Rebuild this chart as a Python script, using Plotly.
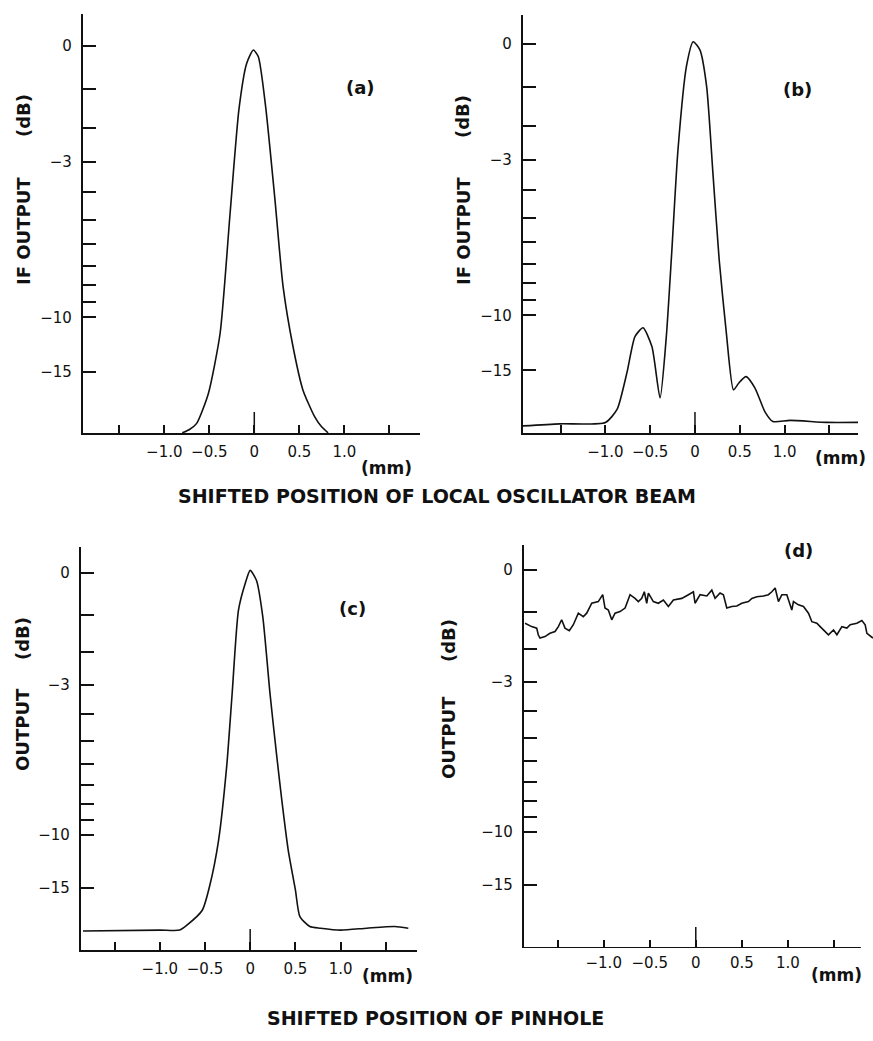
import numpy as np
import plotly.graph_objects as go

W, H = 873, 1041

# ---------------- data (x in mm, output in dB) ----------------
a_x = [-0.80, -0.72, -0.64, -0.51, -0.38, -0.27, -0.17, -0.085, -0.01, 0.045, 0.126,
       0.23, 0.32, 0.43, 0.54, 0.67, 0.75, 0.82]
a_db = [-32.0, -29.5, -26.2, -18.1, -11.2, -4.8, -1.5, -0.39, -0.09, -0.24, -1.44,
        -4.27, -8.1, -12.3, -17.5, -23.6, -28.0, -32.0]

b_x = [-1.92, -1.51, -1.0, -0.87, -0.76, -0.67, -0.58, -0.48, -0.39, -0.32, -0.26,
       -0.19, -0.095, -0.02, 0.055, 0.13, 0.2, 0.27, 0.35, 0.43, 0.49, 0.57, 0.67,
       0.78, 0.87, 1.06, 1.47, 1.82]
b_db = [-28.4, -27.3, -26.6, -22.0, -15.3, -11.6, -10.9, -12.5, -19.3, -11.6, -6.5,
        -2.7, -0.5, 0.05, -0.13, -0.98, -3.4, -6.8, -11.3, -17.8, -16.7, -15.8, -17.5,
        -22.6, -26.2, -25.7, -26.6, -26.6]

c_x = [-1.85, -1.0, -0.78, -0.70, -0.53, -0.45, -0.35, -0.26, -0.20, -0.13, -0.055,
       0.0, 0.07, 0.14, 0.22, 0.29, 0.35, 0.42, 0.50, 0.55, 0.66, 0.78, 1.0, 1.29,
       1.6, 1.75]
c_db = [-23.6, -23.3, -23.3, -21.8, -18.4, -14.8, -10.4, -6.1, -3.3, -0.89, -0.24,
        0.06, -0.17, -1.06, -3.3, -5.5, -7.8, -11.1, -15.2, -19.7, -22.2, -22.7, -23.3,
        -22.7, -22.2, -22.7]

d_x = [-1.855, -1.820, -1.783, -1.728, -1.711, -1.692, -1.638, -1.584, -1.529, -1.493,
       -1.457, -1.421, -1.374, -1.330, -1.276, -1.222, -1.185, -1.130, -1.059, -1.011,
       -0.986, -0.950, -0.913, -0.877, -0.823, -0.768, -0.714, -0.660, -0.624, -0.587,
       -0.559, -0.533, -0.515, -0.461, -0.407, -0.352, -0.298, -0.243, -0.152, -0.080,
       -0.026, -0.008, 0.047, 0.120, 0.174, 0.210, 0.264, 0.300, 0.337, 0.391,
       0.446, 0.500, 0.572, 0.609, 0.645, 0.663, 0.735, 0.789, 0.826, 0.862,
       0.898, 0.935, 0.989, 1.017, 1.043, 1.061, 1.115, 1.170, 1.224, 1.261,
       1.315, 1.351, 1.405, 1.441, 1.496, 1.533, 1.587, 1.641, 1.677, 1.750,
       1.804, 1.840, 1.859, 1.896, 1.924]
d_db = [-1.30, -1.34, -1.39, -1.43, -1.61, -1.70, -1.66, -1.57, -1.52, -1.39,
        -1.21, -1.43, -1.50, -1.34, -1.04, -1.13, -1.04, -0.79, -0.75, -0.58,
        -0.91, -0.96, -1.21, -1.04, -1.00, -0.91, -0.58, -0.67, -0.75, -0.67,
        -0.51, -0.79, -0.54, -0.75, -0.79, -0.71, -0.87, -0.71, -0.67, -0.58,
        -0.51, -0.79, -0.58, -0.61, -0.47, -0.67, -0.54, -0.58, -0.91, -0.87,
        -0.86, -0.79, -0.75, -0.67, -0.63, -0.63, -0.61, -0.58, -0.51, -0.42,
        -0.75, -0.58, -0.58, -0.79, -0.96, -0.75, -0.83, -0.87, -1.04, -1.26,
        -1.30, -1.39, -1.52, -1.61, -1.48, -1.61, -1.39, -1.43, -1.34, -1.30,
        -1.23, -1.34, -1.57, -1.66, -1.70]

x_tick_vals = [-1.5, -1.0, -0.5, 0.0, 0.5, 1.0, 1.5]
x_tick_text = ["", "\u22121.0", "\u22120.5", "0", "0.5", "1.0", ""]
y_tick_db = [0, -1, -2, -3, -4, -5, -6, -7, -8, -9, -10, -15]
y_tick_text = ["0", "", "", "\u22123", "", "", "", "", "", "", "\u221210", "\u221215"]

panel_labels = ["(a)", "(b)", "(c)", "(d)"]
ytitle_main = ["IF OUTPUT", "IF OUTPUT", "OUTPUT", "OUTPUT"]
title_top = "SHIFTED POSITION OF LOCAL OSCILLATOR BEAM"
title_bottom = "SHIFTED POSITION OF PINHOLE"


def amp(db):
    # output axis is linear in field amplitude; labelled in dB
    return 10 ** (np.asarray(db, dtype=float) / 20.0)


# ---------------- layout geometry (pixels) ----------------
panels = [
    dict(px=(83, 420, 14, 433), xr=(-1.903, 1.841), yr=(0.0247, 1.0806)),
    dict(px=(523, 858, 15, 433), xr=(-1.92, 1.82), yr=(0.0201, 1.073)),
    dict(px=(81, 417, 547, 950), xr=(-1.872, 1.846), yr=(0.0164, 1.068)),
    dict(px=(524, 873, 545, 948), xr=(-1.866, 1.925), yr=(0.0138, 1.065)),
]
d_axis_end = 1.793

series = [(a_x, a_db, "spline"), (b_x, b_db, "spline"), (c_x, c_db, "spline"), (d_x, d_db, "linear")]

TICK_FONT = dict(family="DejaVu Sans", size=15, color="#111")
BOLD = dict(family="DejaVu Sans", size=18, color="#111", weight="bold")
UNIT_FONT = dict(family="DejaVu Sans", size=17, color="#111", weight="bold")
LABEL_FONT = dict(family="DejaVu Sans", size=18, color="#111", weight="bold")
TITLE_FONT = dict(family="DejaVu Sans", size=19, color="#111", weight="bold")

fig = go.Figure()
layout = dict(
    width=W, height=H, margin=dict(l=0, r=0, t=0, b=0),
    paper_bgcolor="white", plot_bgcolor="white", showlegend=False,
)
shapes = []
annotations = []

for i, (p, (xs, dbs, shape)) in enumerate(zip(panels, series), start=1):
    l, r, t, b = p["px"]
    xa = "xaxis" if i == 1 else f"xaxis{i}"
    ya = "yaxis" if i == 1 else f"yaxis{i}"
    xid = "x" if i == 1 else f"x{i}"
    yid = "y" if i == 1 else f"y{i}"
    fig.add_trace(go.Scatter(
        x=xs, y=amp(dbs), mode="lines", xaxis=xid, yaxis=yid,
        line=dict(color="#111", width=1.6, shape=shape, smoothing=0.6),
        hoverinfo="skip",
    ))
    layout[xa] = dict(
        domain=[l / W, r / W], anchor=yid, range=list(p["xr"]),
        showgrid=False, zeroline=False, showline=(i != 4), linecolor="#111", linewidth=2.2,
        ticks="inside", ticklen=8, tickwidth=1.5, tickcolor="#111",
        tickmode="array", tickvals=x_tick_vals, ticktext=x_tick_text,
        tickfont=TICK_FONT, ticklabelstandoff=4,
    )
    layout[ya] = dict(
        domain=[1 - b / H, 1 - t / H], anchor=xid, range=list(p["yr"]),
        showgrid=False, zeroline=False, showline=True, linecolor="#111", linewidth=2.2,
        ticks="inside", ticklen=13, tickwidth=1.5, tickcolor="#111",
        tickmode="array", tickvals=list(amp(y_tick_db)), ticktext=y_tick_text,
        tickfont=TICK_FONT, ticklabelstandoff=6,
    )
    # taller tick at x = 0
    shapes.append(dict(type="line", xref=xid, yref="paper", x0=0, x1=0,
                       y0=1 - b / H, y1=1 - (b - 21) / H,
                       line=dict(color="#111", width=1.5)))

# custom x-axis line for panel (d), stopping before the end of the trace
shapes.append(dict(type="line", xref="x4", yref="y4", x0=panels[3]["xr"][0], x1=d_axis_end,
                   y0=panels[3]["yr"][0], y1=panels[3]["yr"][0],
                   line=dict(color="#111", width=2.2)))


def ann(text, px, py, font, angle=0, xanchor="center"):
    annotations.append(dict(text=text, xref="paper", yref="paper", x=px / W, y=1 - py / H,
                            showarrow=False, font=font, textangle=angle,
                            xanchor=xanchor, yanchor="middle"))


# panel labels
for lab, (px, py) in zip(panel_labels, [(360, 87), (797, 90), (352, 608), (798, 550)]):
    ann(lab, px, py, LABEL_FONT)

# y-axis titles (rotated)
for txt, (px, py_main, py_db) in zip(ytitle_main, [(23, 231, 116), (463, 231, 117),
                                                   (22, 730, 639), (448, 737, 640)]):
    ann(txt, px, py_main, BOLD, angle=-90)
    ann("(dB)", px, py_db, BOLD, angle=-90)

# (mm) unit labels
for px, py in [(386, 468), (840, 458), (387, 976), (836, 975)]:
    ann("(mm)", px, py, UNIT_FONT)

ann(title_top, 437, 496, TITLE_FONT)
ann(title_bottom, 435, 1018, TITLE_FONT)

layout["shapes"] = shapes
layout["annotations"] = annotations
fig.update_layout(**layout)
fig.write_html("out.html", config={"displayModeBar": False},
               post_script="document.body.style.margin='0px';")
